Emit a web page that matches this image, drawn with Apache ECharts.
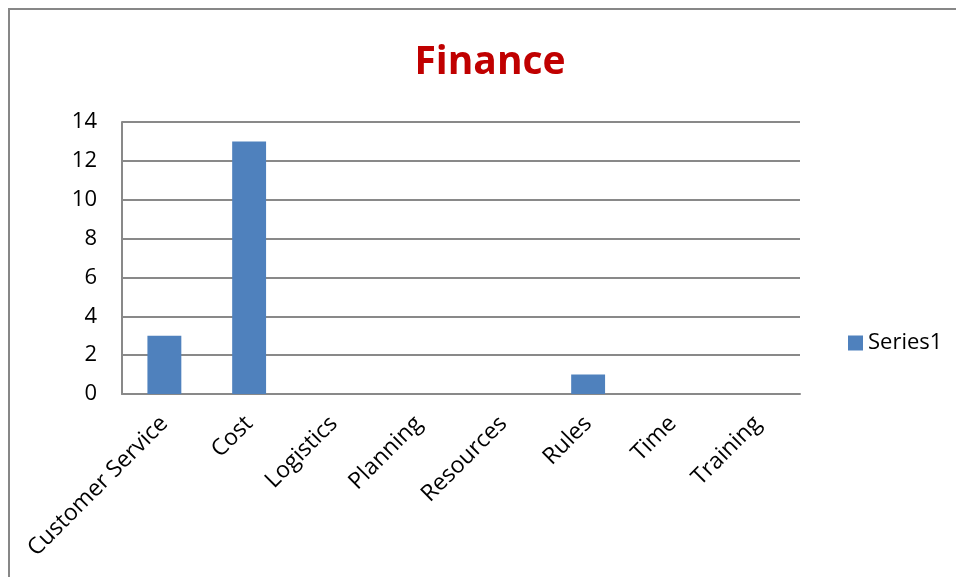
<!DOCTYPE html>
<html>
<head>
<meta charset="utf-8">
<script src="https://cdn.jsdelivr.net/npm/echarts@6/dist/echarts.min.js"></script>
<style>
  html, body { margin: 0; padding: 0; background: #fff; }
  #chart { width: 956px; height: 577px; }
</style>
</head>
<body>
<div id="chart"></div>
<script>
// Finance: counts per category
const categories = ['Customer Service', 'Cost', 'Logistics', 'Planning', 'Resources', 'Rules', 'Time', 'Training'];
const series1 = [3, 13, 0, 0, 0, 1, 0, 0];
const yTicks = { min: 0, max: 14, interval: 2 };

const FONT = '"Open Sans", "Liberation Sans", sans-serif';
const LINE = '#898989';

const chart = echarts.init(document.getElementById('chart'), null, { renderer: 'canvas' });

chart.setOption({
  backgroundColor: '#ffffff',
  animation: false,
  title: {
    text: 'Finance',
    left: 485,
    textAlign: 'center',
    top: 38,
    textStyle: { color: '#C00000', fontFamily: FONT, fontWeight: 'bold', fontSize: 39 }
  },
  graphic: [{
    type: 'rect',
    silent: true,
    shape: { x: 9, y: 9, width: 1200, height: 1000 },
    style: { fill: null, stroke: '#878787', lineWidth: 2 }
  }],
  legend: {
    data: ['Series1'],
    orient: 'vertical',
    left: 843,
    top: 327,
    icon: 'rect',
    itemWidth: 15,
    itemHeight: 15,
    itemGap: 6,
    textStyle: { fontFamily: FONT, fontSize: 22, color: '#000' }
  },
  grid: { left: 122, right: 156, top: 122, bottom: 183, containLabel: false },
  xAxis: {
    type: 'category',
    data: categories,
    axisLine: { show: true, lineStyle: { color: LINE, width: 2 } },
    axisTick: { show: false },
    axisLabel: {
      interval: 0,
      rotate: 45,
      margin: 26,
      fontFamily: FONT,
      fontSize: 23,
      color: '#000'
    }
  },
  yAxis: {
    type: 'value',
    min: yTicks.min,
    max: yTicks.max,
    interval: yTicks.interval,
    axisLine: { show: true, lineStyle: { color: LINE, width: 2 } },
    axisTick: { show: false },
    axisLabel: { margin: 25, fontFamily: FONT, fontSize: 22, color: '#000' },
    splitLine: { show: true, lineStyle: { color: LINE, width: 2 } }
  },
  series: [{
    name: 'Series1',
    type: 'bar',
    data: series1,
    barWidth: '40%',
    itemStyle: { color: '#4F81BD' }
  }]
});
</script>
</body>
</html>
